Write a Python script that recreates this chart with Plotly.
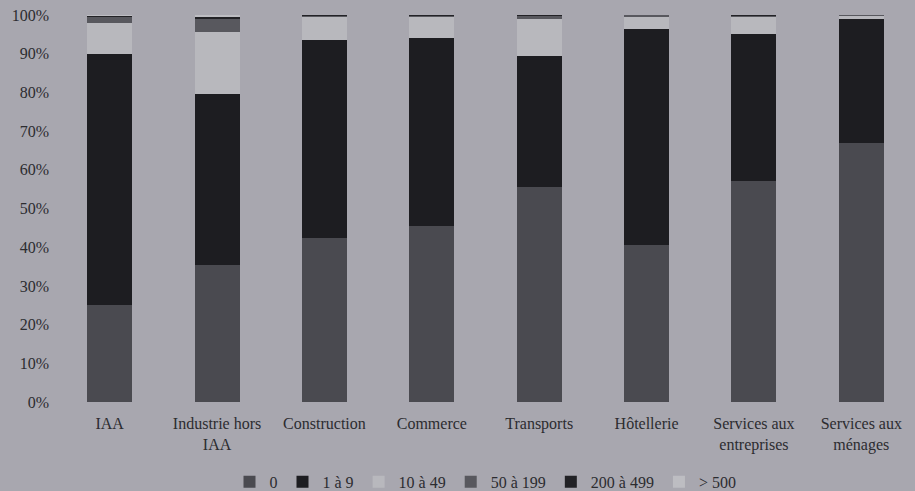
import plotly.graph_objects as go

categories = ["IAA", "Industrie hors<br>IAA", "Construction", "Commerce", "Transports",
              "Hôtellerie", "Services aux<br>entreprises", "Services aux<br>ménages"]
series_names = ["0", "1 à 9", "10 à 49", "50 à 199", "200 à 499", "> 500"]

s_0 = [25.0, 35.5, 42.5, 45.5, 55.5, 40.5, 57.0, 67.0]
s_1_9 = [65.0, 44.0, 51.0, 48.5, 34.0, 56.0, 38.0, 32.0]
s_10_49 = [8.0, 16.0, 6.0, 5.5, 9.5, 3.2, 4.6, 0.8]
s_50_199 = [1.5, 3.5, 0.4, 0.4, 0.8, 0.3, 0.3, 0.2]
s_200_499 = [0.3, 0.7, 0.1, 0.1, 0.2, 0.0, 0.1, 0.0]
s_500 = [0.2, 0.3, 0.0, 0.0, 0.0, 0.0, 0.0, 0.0]

values = [s_0, s_1_9, s_10_49, s_50_199, s_200_499, s_500]
colors = ["#4a4a50", "#1d1d21", "#b8b8bd", "#58585e", "#222226", "#bdbdc2"]

bg = "#a8a7af"
font_family = "Liberation Serif, Times New Roman, serif"

fig = go.Figure()
for name, vals, col in zip(series_names, values, colors):
    fig.add_trace(go.Bar(x=categories, y=vals, name=name,
                         marker=dict(color=col, line=dict(width=0))))

fig.update_layout(
    width=915, height=491,
    barmode="stack", bargap=0.58,
    paper_bgcolor=bg, plot_bgcolor=bg,
    margin=dict(l=56, r=0, t=15, b=89, autoexpand=False),
    font=dict(family=font_family, size=16, color="#2c2c30"),
    showlegend=True,
    legend=dict(orientation="h", x=0.5, xanchor="center", y=-0.25, yanchor="bottom",
                traceorder="normal", font=dict(size=16, family=font_family),
                itemwidth=30, bgcolor="rgba(0,0,0,0)"),
    xaxis=dict(showgrid=False, zeroline=False, showline=False, ticks="",
               tickfont=dict(size=16), ticklabelstandoff=10, automargin=False),
    yaxis=dict(range=[0, 100], dtick=10, ticksuffix="%", showgrid=False,
               zeroline=False, showline=False, tickfont=dict(size=16),
               ticklabelstandoff=6, automargin=False),
)

fig.write_html("out.html")
